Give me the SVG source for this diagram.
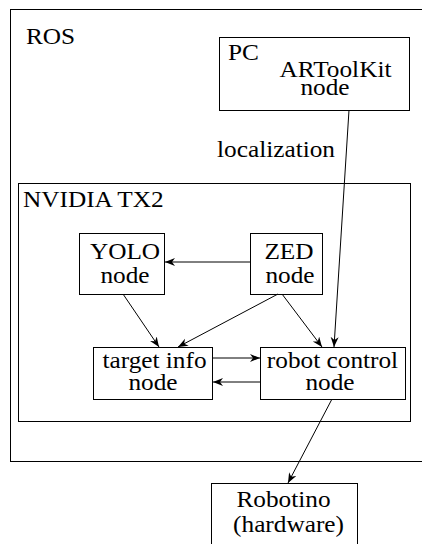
<svg xmlns="http://www.w3.org/2000/svg" width="422" height="544" viewBox="0 0 422 544">
<style>
  .box { fill: none; stroke: #000; stroke-width: 1; }
  .c { stroke: #000; stroke-width: 1; fill: none; marker-end: url(#ah); }
</style>
<defs>
  <marker id="ah" markerUnits="userSpaceOnUse" markerWidth="12" markerHeight="10" refX="10" refY="4" orient="auto">
    <path d="M0,0 L10,4 L0,8 L3,4 z" fill="#000"/>
  </marker>
</defs>
<rect width="422" height="544" fill="#fff"/>

<g font-family="Liberation Serif" font-size="23" fill="#000">
<g id="ros">
  <rect class="box" x="10.5" y="9.5" width="420" height="452"/>
  <text transform="translate(26,44) scale(1.1,1)">ROS</text>
</g>

<g id="pc">
  <rect class="box" x="219.5" y="37.5" width="190" height="73"/>
  <text transform="translate(228,60) scale(1.1,1)">PC</text>
  <text transform="translate(335.5,77) scale(1.1,1)" text-anchor="middle">ARToolKit</text>
  <text transform="translate(325,95) scale(1.1,1)" text-anchor="middle">node</text>
</g>

<g id="nvidia">
  <rect class="box" x="18.5" y="183.5" width="392" height="238"/>
  <text transform="translate(23,207) scale(1.1,1)">NVIDIA TX2</text>
</g>

<g id="yolo">
  <rect class="box" x="79.5" y="233.5" width="85" height="61"/>
  <text transform="translate(125,259) scale(1.1,1)" text-anchor="middle">YOLO</text>
  <text transform="translate(125,283) scale(1.1,1)" text-anchor="middle">node</text>
</g>

<g id="zed">
  <rect class="box" x="250.5" y="233.5" width="72" height="61"/>
  <text transform="translate(289,259) scale(1.1,1)" text-anchor="middle">ZED</text>
  <text transform="translate(290,283) scale(1.1,1)" text-anchor="middle">node</text>
</g>

<g id="target">
  <rect class="box" x="93.5" y="347.5" width="119" height="52"/>
  <text transform="translate(154.5,368) scale(1.1,1)" text-anchor="middle">target info</text>
  <text transform="translate(153,390) scale(1.1,1)" text-anchor="middle">node</text>
</g>

<g id="robot">
  <rect class="box" x="260.5" y="347.5" width="145" height="52"/>
  <text transform="translate(332.5,368) scale(1.1,1)" text-anchor="middle">robot control</text>
  <text transform="translate(330,390) scale(1.1,1)" text-anchor="middle">node</text>
</g>

<g id="robotino">
  <rect class="box" x="211.5" y="483.5" width="146" height="70"/>
  <text transform="translate(283.5,507) scale(1.1,1)" text-anchor="middle">Robotino</text>
  <text transform="translate(288.5,532) scale(1.1,1)" text-anchor="middle">(hardware)</text>
</g>

<g id="label">
  <text transform="translate(276,157) scale(1.1,1)" text-anchor="middle">localization</text>
</g>
</g>

<g id="connectors">
  <line class="c" x1="349" y1="110" x2="334" y2="347"/>
  <line class="c" x1="250" y1="262" x2="165" y2="262"/>
  <line class="c" x1="123" y1="294" x2="159" y2="347"/>
  <line class="c" x1="278" y1="294" x2="178" y2="347"/>
  <line class="c" x1="282" y1="294" x2="322" y2="347"/>
  <line class="c" x1="212" y1="358" x2="260" y2="358"/>
  <line class="c" x1="260" y1="382" x2="213" y2="382"/>
  <line class="c" x1="332" y1="399" x2="288" y2="483"/>
</g>
</svg>
